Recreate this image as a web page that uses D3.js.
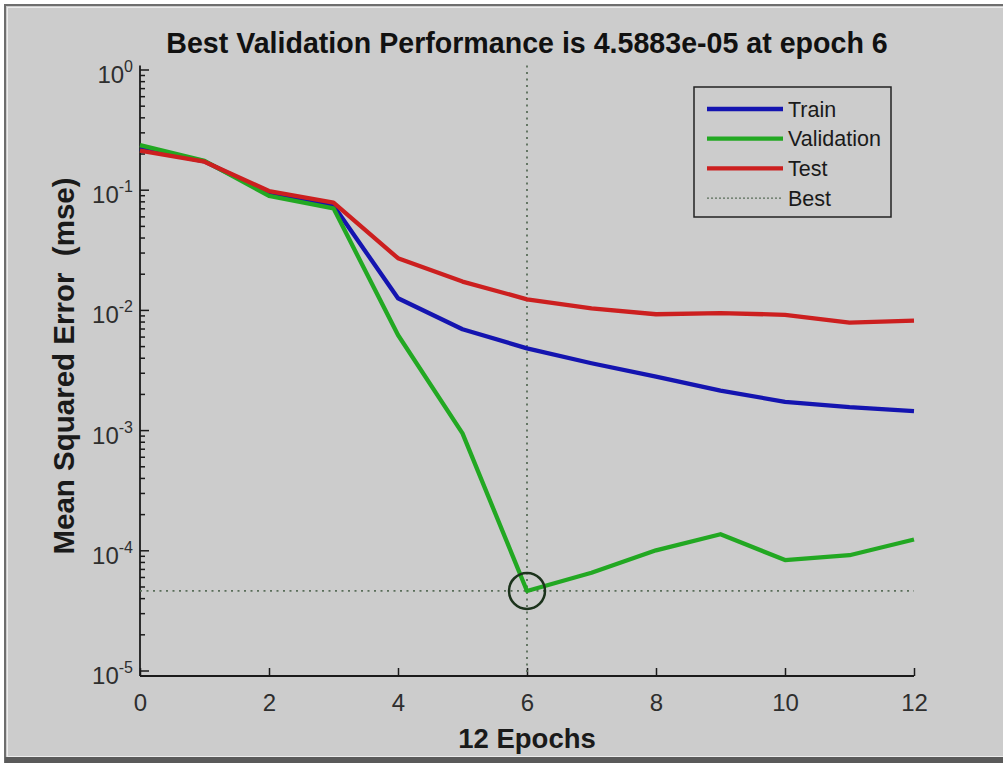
<!DOCTYPE html>
<html>
<head>
<meta charset="utf-8">
<title>Best Validation Performance</title>
<script src="https://cdn.jsdelivr.net/npm/d3@7"></script>
<style>
  body { margin: 0; background: #ffffff; }
  text { font-family: "Liberation Sans", Arial, sans-serif; }
  .axis path, .axis line { fill: none; stroke: #1a1a1a; stroke-width: 1.5; }
  .axis text { fill: #2e2e2e; font-size: 24px; }
</style>
</head>
<body>
<script>
// epochs and performance values (mse)
var epochs    = [0, 1, 2, 3, 4, 5, 6, 7, 8, 9, 10, 11, 12];
var trainPerf = [0.220, 0.172, 0.093, 0.074, 0.0125, 0.0069, 0.00479, 0.0036, 0.00278, 0.00213, 0.00172, 0.00155, 0.00144];
var valPerf   = [0.235, 0.174, 0.0887, 0.070, 0.00618, 0.00094, 4.5883e-5, 6.5e-5, 1.0e-4, 1.36e-4, 8.3e-5, 9.1e-5, 1.23e-4];
var testPerf  = [0.211, 0.171, 0.0975, 0.078, 0.0269, 0.0172, 0.01225, 0.0103, 0.0092, 0.0094, 0.0091, 0.00783, 0.00813];
var bestEpoch = 6;
var bestPerf  = 4.5883e-5;
var xTicks = [0, 2, 4, 6, 8, 10, 12];
var yTicks = [1e-5, 1e-4, 1e-3, 1e-2, 1e-1, 1];
var seriesNames = ["Train", "Validation", "Test"];
var seriesColors = ["#1414b0", "#22a822", "#cc1f1f"];

var width = 1003, height = 763;
var svg = d3.select("body").append("svg")
  .attr("width", width).attr("height", height);

// figure frame
svg.append("rect").attr("x", 5).attr("y", 5).attr("width", width).attr("height", height)
  .attr("fill", "#cccccc").attr("stroke", "#6e6e6e").attr("stroke-width", 2);
svg.append("rect").attr("x", 7.5).attr("y", 7.5).attr("width", width).attr("height", height - 14)
  .attr("fill", "none").attr("stroke", "#ececec").attr("stroke-width", 1);
svg.append("rect").attr("x", 5).attr("y", 757).attr("width", width).attr("height", 6)
  .attr("fill", "#5a5a5a");

var xScale = d3.scaleLinear().domain([0, 12]).range([140, 914]);
var yScale = d3.scaleLog().domain([1e-5, 1]).range([670.5, 69.5]);
var axisY = 676;

// x axis (ticks inward)
var xAxis = d3.axisBottom(xScale).tickValues(xTicks).tickSize(-8).tickSizeOuter(0).tickPadding(0);
var gx = svg.append("g").attr("class", "axis")
  .attr("transform", "translate(0," + axisY + ")").call(xAxis);
gx.select(".domain").remove();
gx.selectAll(".tick text").attr("y", 35).attr("dy", null);

// y axis (major ticks inward + minor ticks)
var minorTicks = [];
for (var k = -5; k < 0; k++) {
  for (var m = 2; m <= 9; m++) minorTicks.push(m * Math.pow(10, k));
}
var yMinor = d3.axisLeft(yScale).tickValues(minorTicks).tickSize(-5).tickFormat("");
var gym = svg.append("g").attr("class", "axis")
  .attr("transform", "translate(140,0)").call(yMinor);
gym.select(".domain").remove();

var yAxis = d3.axisLeft(yScale).tickValues(yTicks).tickSize(-9).tickPadding(0);
var gy = svg.append("g").attr("class", "axis")
  .attr("transform", "translate(140,0)").call(yAxis);
gy.select(".domain").remove();
gy.selectAll(".tick text").each(function (d) {
  var t = d3.select(this);
  t.text("").attr("x", -7).attr("y", 13).attr("dy", null).attr("text-anchor", "end");
  t.append("tspan").text("10");
  t.append("tspan").attr("dy", -11).attr("font-size", "16px").text(String(Math.round(Math.log10(d))));
});

// axis lines
svg.append("line").attr("x1", xScale(0)).attr("x2", xScale(12)).attr("y1", axisY).attr("y2", axisY)
  .attr("stroke", "#1a1a1a").attr("stroke-width", 1.8);
svg.append("line").attr("x1", xScale(0)).attr("x2", xScale(0)).attr("y1", yScale(1) - 4).attr("y2", axisY)
  .attr("stroke", "#1a1a1a").attr("stroke-width", 1.8);

// best markers (dotted lines)
svg.append("line").attr("x1", xScale(bestEpoch)).attr("x2", xScale(bestEpoch))
  .attr("y1", yScale(1) - 4).attr("y2", axisY)
  .attr("stroke", "#5a6e5a").attr("stroke-width", 1.8).attr("stroke-dasharray", "2,4.5");
svg.append("line").attr("x1", xScale(0)).attr("x2", xScale(12))
  .attr("y1", yScale(bestPerf)).attr("y2", yScale(bestPerf))
  .attr("stroke", "#5a6e5a").attr("stroke-width", 1.8).attr("stroke-dasharray", "2,4.5");

// series lines
var line = d3.line()
  .x(function (d, i) { return xScale(epochs[i]); })
  .y(function (d) { return yScale(d); });
[trainPerf, valPerf, testPerf].forEach(function (vals, i) {
  svg.append("path").datum(vals)
    .attr("d", line)
    .attr("fill", "none")
    .attr("stroke", seriesColors[i])
    .attr("stroke-width", 4.3)
    .attr("stroke-linejoin", "round");
});

// best circle
svg.append("circle").attr("cx", xScale(bestEpoch)).attr("cy", yScale(bestPerf)).attr("r", 18)
  .attr("fill", "none").attr("stroke", "#1c331c").attr("stroke-width", 2.5);

// legend
var legend = svg.append("g").attr("transform", "translate(694,87)");
legend.append("rect").attr("width", 197).attr("height", 130)
  .attr("fill", "none").attr("stroke", "#222222").attr("stroke-width", 1.5);
var legendItems = seriesNames.concat(["Best"]);
legendItems.forEach(function (name, i) {
  var yy = 22 + i * 29.7;
  var l = legend.append("line").attr("x1", 13).attr("x2", 89).attr("y1", yy).attr("y2", yy);
  if (i < 3) {
    l.attr("stroke", seriesColors[i]).attr("stroke-width", 4.3);
  } else {
    l.attr("stroke", "#5a6e5a").attr("stroke-width", 1.2).attr("stroke-dasharray", "2,2");
  }
  legend.append("text").attr("x", 94).attr("y", yy + 7.5)
    .attr("font-size", "21.5px").attr("fill", "#1a1a1a").text(name);
});

// title and axis labels
svg.append("text").attr("x", 527).attr("y", 53).attr("text-anchor", "middle")
  .attr("font-size", "28.6px").attr("font-weight", "bold").attr("fill", "#111111")
  .text("Best Validation Performance is 4.5883e-05 at epoch 6");
svg.append("text").attr("x", 527).attr("y", 748).attr("text-anchor", "middle")
  .attr("font-size", "27.5px").attr("font-weight", "bold").attr("fill", "#1a1a1a")
  .text("12 Epochs");
svg.append("text").attr("transform", "translate(74,366) rotate(-90)")
  .attr("text-anchor", "middle").attr("xml:space", "preserve").style("white-space", "pre")
  .attr("font-size", "29.5px").attr("font-weight", "bold").attr("fill", "#1a1a1a")
  .text("Mean Squared Error  (mse)");
</script>
</body>
</html>
